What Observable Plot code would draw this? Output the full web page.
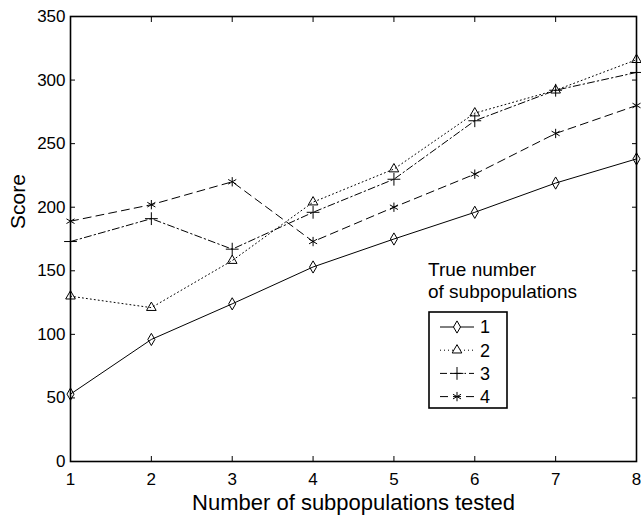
<!DOCTYPE html>
<html>
<head>
<meta charset="utf-8">
<script src="https://cdn.jsdelivr.net/npm/d3@7"></script>
<script src="https://cdn.jsdelivr.net/npm/@observablehq/plot@0.6"></script>
<style>
  html, body { margin: 0; padding: 0; background: white; }
  #chart { position: relative; width: 641px; height: 516px; }
</style>
</head>
<body>
<div id="chart"></div>
<script>
// ---- data ----
const xValues = [1, 2, 3, 4, 5, 6, 7, 8];
const series1 = [53, 96, 124, 153, 175, 196, 219, 238];
const series2 = [130, 121, 158, 204, 230, 274, 292, 316];
const series3 = [173, 191, 167, 196, 222, 268, 292, 306];
const series4 = [189, 202, 220, 173, 200, 226, 258, 280];
const seriesNames = ["1", "2", "3", "4"];
const xTicks = [1, 2, 3, 4, 5, 6, 7, 8];
const yTicks = [0, 50, 100, 150, 200, 250, 300, 350];
const xLabel = "Number of subpopulations tested";
const yLabel = "Score";
const legendTitle = ["True number", "of subpopulations"];

// ---- styles ----
const styles = [
  {symbol: "diamond", r: 3.7, dash: null},
  {symbol: "triangle2", r: 4.6, dash: "1,3"},
  {symbol: "plus", r: 4.2, dash: "7,3,1.5,3"},
  {symbol: "asterisk", r: 4.4, dash: "8,5"}
];
const allSeries = [series1, series2, series3, series4];
const rows = allSeries.flatMap((s, i) => s.map((v, j) => ({x: xValues[j], y: v, series: seriesNames[i]})));

const font = "'Liberation Sans', Arial, Helvetica, sans-serif";

const marks = [];
allSeries.forEach((s, i) => {
  const data = rows.filter(d => d.series === seriesNames[i]);
  marks.push(Plot.line(data, {x: "x", y: "y", stroke: "black", strokeWidth: 1, strokeDasharray: styles[i].dash}));
  marks.push(Plot.dot(data, {x: "x", y: "y", symbol: () => styles[i].symbol, r: styles[i].r, fill: "none", stroke: "black", strokeWidth: 1}));
});

const chart = Plot.plot({
  width: 641,
  height: 516,
  marginLeft: 70,
  marginRight: 5,
  marginTop: 16,
  marginBottom: 55,
  style: {fontFamily: font, fontSize: "17px", background: "white", color: "black"},
  x: {domain: [1, 8]},
  y: {domain: [0, 350]},
  marks: [
    // tick labels
    Plot.axisX({ticks: xTicks, tickSize: 0, tickPadding: 11, tickFormat: d3.format("d"), label: null, fontSize: 17}),
    Plot.axisY({ticks: yTicks, tickSize: 0, tickPadding: 5, tickFormat: d3.format("d"), label: null, fontSize: 17}),
    // inward ticks on all four sides
    Plot.axisX({ticks: xTicks, anchor: "bottom", tickSize: 5, dy: -5, tickFormat: () => "", label: null, strokeWidth: 1}),
    Plot.axisX({ticks: xTicks, anchor: "top", tickSize: 5, dy: 5, tickFormat: () => "", label: null, strokeWidth: 1}),
    Plot.axisY({ticks: yTicks, anchor: "left", tickSize: 5, dx: 5, tickFormat: () => "", label: null, strokeWidth: 1}),
    Plot.axisY({ticks: yTicks, anchor: "right", tickSize: 5, dx: -5, tickFormat: () => "", label: null, strokeWidth: 1}),
    ...marks,
    Plot.frame({stroke: "black", strokeWidth: 1.6}),
    Plot.text([xLabel], {frameAnchor: "bottom", dy: 48, lineAnchor: "bottom", fontSize: 22, fill: "black"}),
    Plot.text([yLabel], {frameAnchor: "left", rotate: -90, dx: -52, dy: -10, fontSize: 21, fill: "black"})
  ]
});
document.getElementById("chart").appendChild(chart);

// ---- legend (drawn into the same SVG) ----
const svg = d3.select(chart);
const lg = svg.append("g").attr("font-family", font).attr("fill", "black").attr("text-anchor", "start");
lg.selectAll("text.title").data(legendTitle).join("text")
  .attr("class", "title")
  .attr("x", 428).attr("y", (d, i) => 276 + i * 22)
  .attr("font-size", 19).text(d => d);
lg.append("rect").attr("x", 429).attr("y", 312).attr("width", 78).attr("height", 96)
  .attr("fill", "white").attr("stroke", "black").attr("stroke-width", 1.6);
const symbolTypes = {diamond: d3.symbolDiamond, triangle2: d3.symbolTriangle2, plus: d3.symbolPlus, asterisk: d3.symbolAsterisk};
seriesNames.forEach((name, i) => {
  const cy = 327 + i * 23.2;
  const g = lg.append("g");
  g.append("line").attr("x1", 440).attr("x2", 474).attr("y1", cy).attr("y2", cy)
    .attr("stroke", "black").attr("stroke-width", 1).attr("stroke-dasharray", styles[i].dash);
  g.append("path").attr("transform", `translate(457,${cy})`)
    .attr("d", d3.symbol(symbolTypes[styles[i].symbol], Math.PI * styles[i].r * styles[i].r)())
    .attr("fill", "white").attr("stroke", "black").attr("stroke-width", 1);
  g.append("text").attr("x", 480).attr("y", cy).attr("dy", "0.36em").attr("font-size", 18).text(name);
});
</script>
</body>
</html>
